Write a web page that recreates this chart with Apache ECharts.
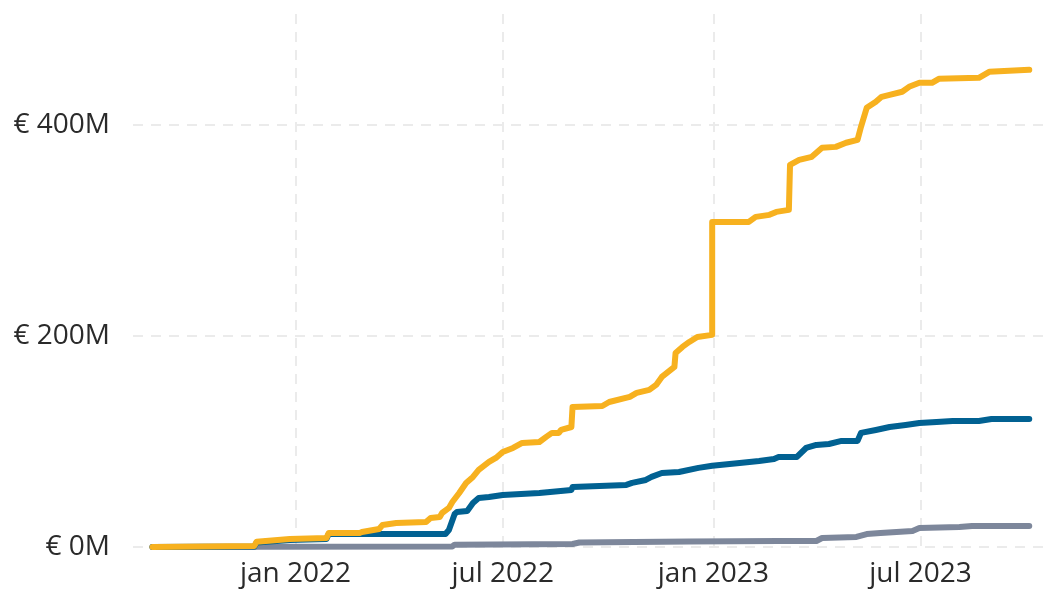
<!DOCTYPE html>
<html>
<head>
<meta charset="utf-8">
<script src="https://cdn.jsdelivr.net/npm/echarts@6.0.0/dist/echarts.min.js"></script>
<style>
  html, body { margin: 0; padding: 0; background: #fff; }
  #main { width: 1051px; height: 589px; }
</style>
</head>
<body>
<div id="main"></div>
<script>
// tick labels
const xTicks = ["2022-01-01", "2022-07-01", "2023-01-01", "2023-07-01"];
const yTicks = [0, 200, 400];
const monthNames = ["jan", "feb", "mrt", "apr", "mei", "jun", "jul", "aug", "sep", "okt", "nov", "dec"];

// yellow series (M euro, cumulative)
const goldDates = [
  "2021-08-29", "2021-11-26", "2021-11-28", "2021-12-27", "2022-01-28", "2022-01-30",
  "2022-02-26", "2022-02-28", "2022-03-15", "2022-03-18", "2022-03-30", "2022-04-25",
  "2022-04-29", "2022-05-07", "2022-05-09", "2022-05-15", "2022-05-18", "2022-05-24",
  "2022-05-30", "2022-06-05", "2022-06-10", "2022-06-19", "2022-06-25", "2022-07-01",
  "2022-07-10", "2022-07-18", "2022-08-02", "2022-08-08", "2022-08-13", "2022-08-19",
  "2022-08-21", "2022-08-30", "2022-08-31", "2022-09-26", "2022-10-02", "2022-10-20",
  "2022-10-26", "2022-11-06", "2022-11-12", "2022-11-17", "2022-11-28", "2022-11-29",
  "2022-12-05", "2022-12-11", "2022-12-18", "2022-12-31", "2022-12-31", "2023-02-01",
  "2023-02-07", "2023-02-19", "2023-02-25", "2023-03-08", "2023-03-09", "2023-03-17",
  "2023-03-28", "2023-04-06", "2023-04-18", "2023-04-27", "2023-05-07", "2023-05-10",
  "2023-05-15", "2023-05-23", "2023-05-28", "2023-06-04", "2023-06-15", "2023-06-21",
  "2023-06-30", "2023-07-11", "2023-07-17", "2023-08-21", "2023-08-30", "2023-10-04"
];
const goldValues = [
  0, 1, 5, 7.6, 8.5, 13.3,
  13.3, 14.2, 17.1, 20.9, 22.7, 23.7,
  27.5, 28.4, 32.2, 37, 42.6, 51.2,
  60.7, 66.4, 73, 80.6, 84.4, 90,
  93.8, 98.6, 99.5, 104.3, 108.1, 108.1,
  110.9, 113.7, 132.7, 133.6, 137.4, 142.2,
  146, 148.8, 153.6, 161.1, 170.6, 183.9,
  189.6, 194.3, 199, 201, 308, 308,
  312.8, 314.7, 317.5, 319.4, 362.1, 366.8,
  369.7, 378.2, 379.1, 383, 385.8, 398.1,
  416.1, 421.8, 426.5, 428.4, 431.3, 436,
  439.8, 439.8, 443.6, 444.5, 450.2, 452.1
];

// blue series
const blueDates = [
  "2021-08-29", "2021-11-26", "2021-11-28", "2021-12-27", "2022-01-28", "2022-01-30",
  "2022-05-12", "2022-05-15", "2022-05-20", "2022-05-22", "2022-05-31", "2022-06-05",
  "2022-06-10", "2022-06-19", "2022-07-01", "2022-08-02", "2022-08-30", "2022-08-31",
  "2022-10-17", "2022-10-22", "2022-11-03", "2022-11-08", "2022-11-17", "2022-12-02",
  "2022-12-19", "2022-12-31", "2023-01-24", "2023-02-10", "2023-02-23", "2023-02-27",
  "2023-03-15", "2023-03-23", "2023-04-01", "2023-04-12", "2023-04-23", "2023-05-07",
  "2023-05-10", "2023-05-23", "2023-06-04", "2023-06-18", "2023-06-30", "2023-07-15",
  "2023-07-29", "2023-08-21", "2023-09-01", "2023-10-04"
];
const blueValues = [
  0, 0.5, 4.3, 6.6, 7.6, 12.3,
  12.3, 16.1, 31.3, 33.2, 34.1, 41.7,
  46.4, 47.4, 49.3, 51.2, 54, 56.9,
  58.8, 60.7, 63.5, 66.4, 70.1, 71.1,
  75, 77, 79.6, 81.5, 83.4, 85.3,
  85.3, 93.8, 96.7, 97.6, 100.5, 100.5,
  108.1, 110.9, 113.7, 115.6, 117.5, 118.5,
  119.4, 119.4, 121.3, 121.3
];

// grey series
const greyDates = [
  "2021-08-29", "2021-11-26", "2021-11-28", "2022-05-18", "2022-05-20", "2022-08-31",
  "2022-09-06", "2022-12-11", "2023-02-27", "2023-04-01", "2023-04-06", "2023-05-06",
  "2023-05-15", "2023-05-27", "2023-06-24", "2023-06-30", "2023-08-04", "2023-08-15",
  "2023-10-04"
];
const greyValues = [
  0, 0, 0.3, 0.5, 2.2, 2.8,
  4.3, 5.2, 5.7, 5.7, 8.5, 9.5,
  12.3, 13.3, 15.2, 18, 19, 19.9,
  19.9
];

// dates -> ms timestamps (UTC) on a plain value axis
const toMs = (d) => Date.parse(d + "T00:00:00Z");
const zip = (dates, values) => dates.map((d, i) => [toMs(d), values[i]]);
const xTickMs = xTicks.map(toMs);

var myChart = echarts.init(document.getElementById("main"));

const textStyle = {
  color: "#2a2a2a",
  fontFamily: "Open Sans",
  fontSize: 28,
};

const splitLine = {
  show: true,
  lineStyle: { color: "#ebebeb", width: 2, type: [10, 8] },
};

const lineSeries = (name, data, color) => ({
  name: name,
  type: "line",
  data: data,
  showSymbol: false,
  symbol: "none",
  lineStyle: { color: color, width: 6, cap: "round", join: "round" },
  itemStyle: { color: color },
});

var option = {
  animation: false,
  grid: { left: 133, right: 0, top: 14, bottom: 42 },
  xAxis: {
    type: "value",
    min: toMs("2021-08-12"),
    max: toMs("2023-10-23"),
    axisLine: { show: false },
    axisTick: { show: false, customValues: xTickMs },
    axisLabel: {
      ...textStyle,
      margin: 13,
      customValues: xTickMs,
      formatter: (v) => {
        const d = new Date(v);
        return monthNames[d.getUTCMonth()] + " " + d.getUTCFullYear();
      },
    },
    splitLine: splitLine,
  },
  yAxis: {
    type: "value",
    min: 0,
    max: 505,
    axisLine: { show: false },
    axisTick: { show: false, customValues: yTicks },
    axisLabel: {
      ...textStyle,
      margin: 23,
      customValues: yTicks,
      formatter: (v) => "€ " + v + "M",
    },
    splitLine: splitLine,
  },
  series: [
    lineSeries("Grijs", zip(greyDates, greyValues), "#7d879b"),
    lineSeries("Blauw", zip(blueDates, blueValues), "#016192"),
    lineSeries("Geel", zip(goldDates, goldValues), "#f7b11f"),
  ],
};

myChart.setOption(option);
</script>
</body>
</html>
